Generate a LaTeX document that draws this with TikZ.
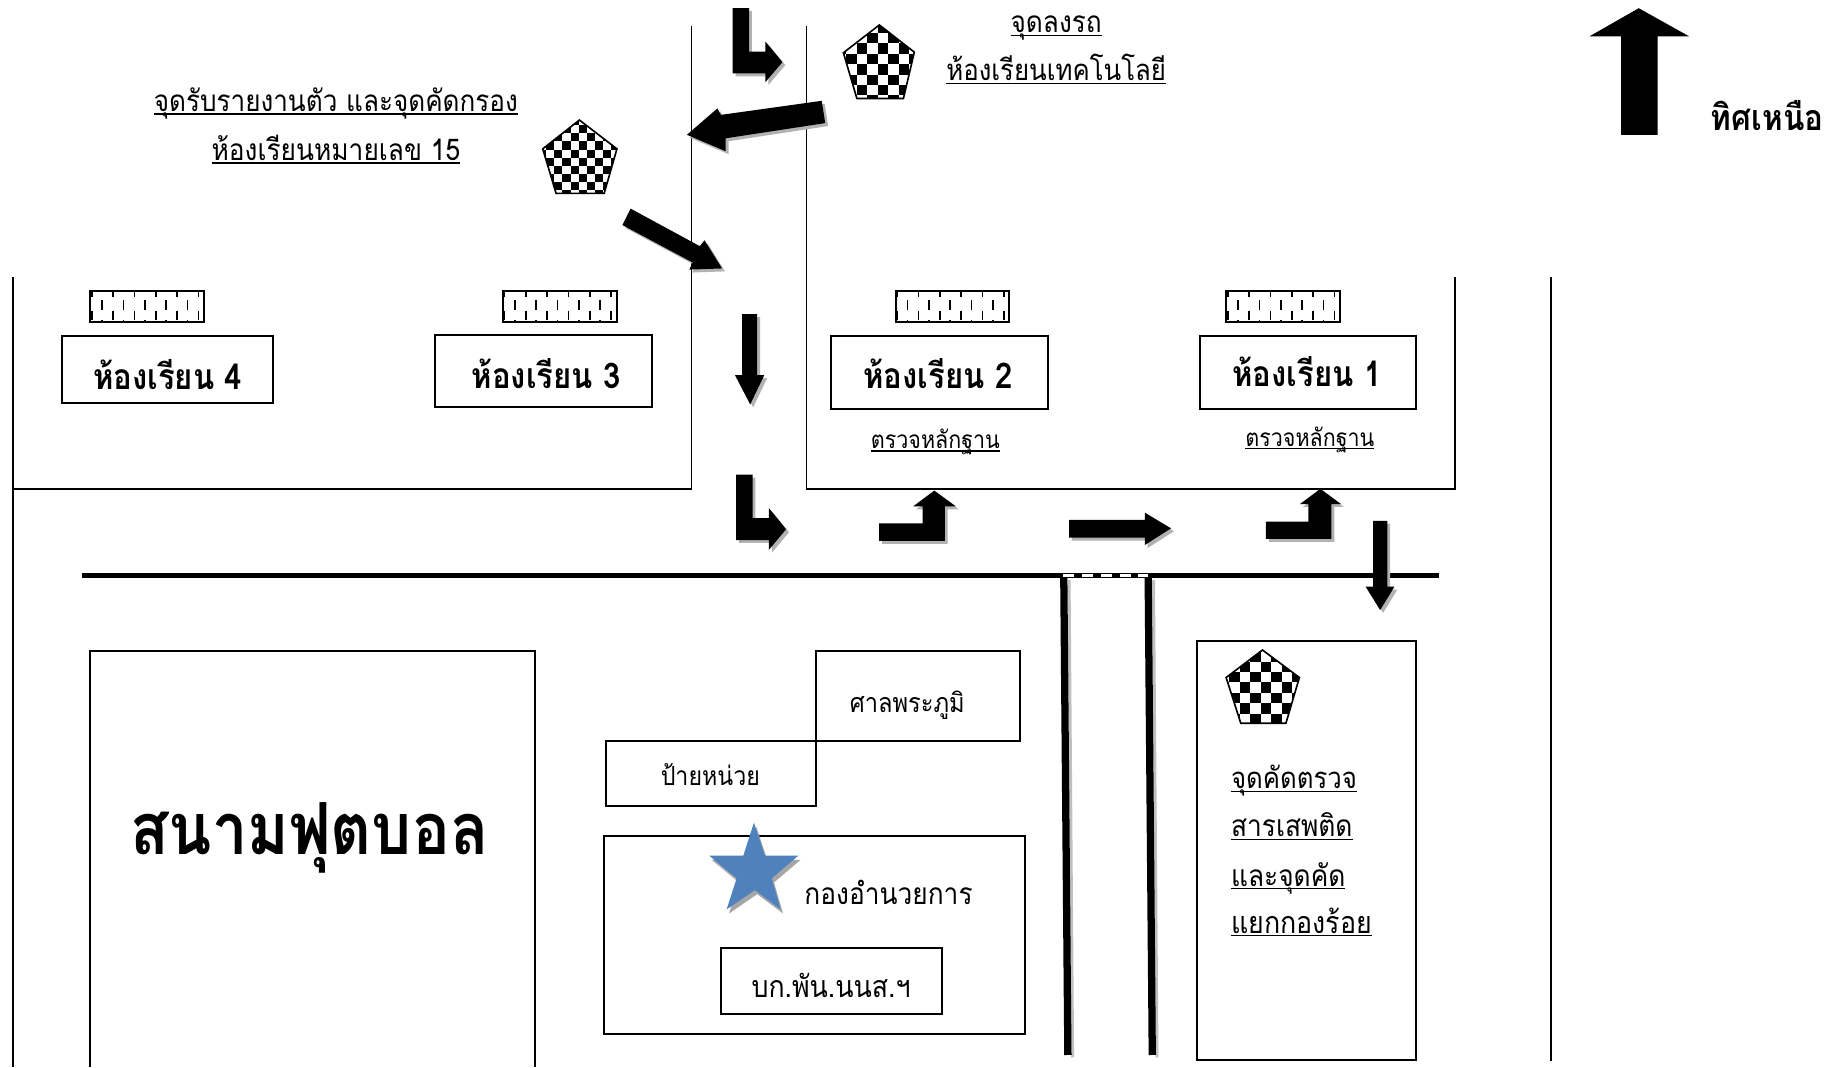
\documentclass[tikz,border=0pt]{standalone}
\usepackage{fontspec}
\newfontfamily\thaifont[Script=Thai,FakeStretch=0.88]{Loma}
\usetikzlibrary{calc}
\newcommand\ulthai[1]{\setbox0\hbox{#1}\rlap{\rule[-0.11em]{\wd0}{0.05em}}\box0}
\newcommand\fsz[1]{\fontsize{#1pt}{#1pt}\selectfont}
\tikzset{
  thin line/.style={line width=1.5pt,draw=black},
  road/.style={line width=4.2pt,draw=black},
  boxed/.style={line width=1.7pt,draw=black,fill=none},
  lab/.style={inner sep=0pt,anchor=base,font=\thaifont},
  labl/.style={inner sep=0pt,anchor=base west,font=\thaifont},
  arr/.style={fill=black,preaction={fill=black!30,transform canvas={shift={(2.5pt,-2.5pt)}}}},
  arrp/.style={fill=black},
  pent/.style={line width=1.4pt,draw=black},
  tick/.style={line width=1.5pt,draw=black},
}
% checker pentagon: #1 path, #2 x0, #3 y0, #4 cell w, #5 cell h
\newcommand\checkerpent[5]{%
  \begin{scope}
    \clip #1;
    \foreach \i in {0,...,12}{\foreach \j in {0,...,12}{%
      \pgfmathtruncatemacro\odd{mod(\i+\j,2)}%
      \ifnum\odd=0
        \fill[black] ({#2+\i*#4},{#3+\j*#5}) rectangle ++(#4,#5);
      \fi}}
  \end{scope}
  \draw[pent] #1;}
% hatch box #1 x0, #2 y0
\newcommand\hatchbox[2]{%
  \foreach \k in {0,...,5}{%
    \draw[tick] ({#1+1.4+\k*18.2},{#2}) -- ++(0,5);
    \draw[tick] ({#1+1.4+\k*18.2},{#2+17}) -- ++(0,8);}
  \foreach \k in {0,...,4}{%
    \draw[tick] ({#1+10.2+\k*18.2},{#2+8}) -- ++(0,8.5);
    \draw[tick] ({#1+10.2+\k*18.2},{#2+25}) -- ++(0,2);}
  \draw[boxed] (#1,#2) rectangle ++(97,27);}
\begin{document}
\begin{tikzpicture}[x=1pt,y=-1pt]
\useasboundingbox (0,0) rectangle (1568,911);
\fill[white] (0,0) rectangle (1568,911);
% walls
\draw[thin line] (590,22) -- (590,417) -- (11,417);
\draw[thin line] (11,236) -- (11,910);
\draw[thin line] (688,22) -- (688,417) -- (1241,417) -- (1241,236);
\draw[thin line] (1323,236) -- (1323,905);
% road side lines
\draw[line width=2.6pt,draw=black!25] (912,495) -- (915,902);
\draw[line width=2.6pt,draw=black!25] (984,495) -- (987,902);
\draw[line width=6.2pt,draw=black] (907.5,491) -- (911,900);
\draw[line width=6.2pt,draw=black] (979.5,491) -- (983,900);
% road
\draw[road] (70,491) -- (1228,491);
\draw[white,line width=2.6pt,dash pattern=on 9.4pt off 6.6pt] (907.2,491) -- (979.5,491);
% pentagons
\checkerpent{(750.2,21.3) -- (780,44.5) -- (770.7,84) -- (731,84) -- (719.5,45) -- cycle}{712.8}{19.1}{9}{8.9}
\checkerpent{(494.3,102.4) -- (526.3,127) -- (515.4,165) -- (474.4,165) -- (463,127) -- cycle}{452}{92.8}{6.95}{6.95}
\checkerpent{(1077,554.5) -- (1108.5,578) -- (1097,617) -- (1058.5,617) -- (1046,578) -- cycle}{1039.5}{546.6}{9}{8.9}
% arrows
\fill[arr] (625,7) -- (639,7) -- (639,44) -- (653,44) -- (653,35.5) -- (667.5,53) -- (653,70) -- (653,62.6) -- (625,62.6) -- cycle;
\fill[arr] (586,115) -- (612,92.5) -- (615,98) -- (701,86) -- (704,105) -- (619,118) -- (619,129) -- cycle;
\fill[arr] (538,178) -- (597,210) -- (601,205) -- (616,229) -- (588,230) -- (591,224) -- (531,192) -- cycle;
\fill[arr] (633,268) -- (646,268) -- (646,320) -- (652,320) -- (640,345) -- (627,320) -- (633,320) -- cycle;
\fill[arr] (628,405) -- (642,405) -- (642,442) -- (656,442) -- (656,433.6) -- (670.6,451.5) -- (656,469) -- (656,460.7) -- (628,460.7) -- cycle;
\fill[arr] (750,446.5) -- (787,446.5) -- (787,432) -- (779,432) -- (797,418.5) -- (815.5,432) -- (806,432) -- (806,461.5) -- (750,461.5) -- cycle;
\fill[arr] (912,443.6) -- (976.6,443.6) -- (976.6,437.3) -- (999,450.7) -- (976.6,465) -- (976.6,458.7) -- (912,458.7) -- cycle;
\fill[arr] (1080,445) -- (1116.2,445) -- (1116.2,430) -- (1109,430) -- (1126.4,417) -- (1144,430) -- (1135.8,430) -- (1135.8,459.8) -- (1080,459.8) -- cycle;
\fill[arr] (1171.3,444.4) -- (1183.5,444.4) -- (1183.5,500.5) -- (1189.6,500.5) -- (1177.4,520.4) -- (1165,500.5) -- (1171.3,500.5) -- cycle;
\fill[arrp] (1398,7) -- (1441,31) -- (1414,31) -- (1414,115) -- (1383,115) -- (1383,31) -- (1356,31) -- cycle;
% hatch boxes
\hatchbox{77}{248}
\hatchbox{429}{248}
\hatchbox{764}{248}
\hatchbox{1046}{248}
% boxes
\draw[boxed] (53,287) rectangle (233,344);
\draw[boxed] (371,286) rectangle (556,347);
\draw[boxed] (709,287) rectangle (894,349);
\draw[boxed] (1024,287) rectangle (1208,349);
\draw[boxed] (77,910) -- (77,555) -- (456,555) -- (456,910);
\draw[boxed] (696,555) rectangle (870,632);
\draw[boxed] (517,632) rectangle (696,688);
\draw[boxed] (515,713) rectangle (874,882);
\draw[boxed] (615,809) rectangle (804,865);
\draw[boxed] (1021,547) rectangle (1208,904);
% star
\fill[black!35,shift={(2,3.5)}] (643.2,701.8) -- (652.6,730) -- (681,730) -- (658.3,749.3) -- (666,775.8) -- (644,759.3) -- (619.9,775.8) -- (628.4,749.3) -- (605.1,730) -- (634.1,730) -- cycle;
\fill[fill={rgb,255:red,79;green,129;blue,189}] (643.2,701.8) -- (652.6,730) -- (681,730) -- (658.3,749.3) -- (666,775.8) -- (644,759.3) -- (619.9,775.8) -- (628.4,749.3) -- (605.1,730) -- (634.1,730) -- cycle;
% labels
\node[lab] (t1) at (901,28) {\fsz{25.4}\ulthai{จุดลงรถ}};
\node[lab] (t2) at (901,69) {\fsz{25}\ulthai{ห้องเรียนเทคโนโลยี}};
\node[lab] (t3) at (286.5,95) {\fsz{25.3}\ulthai{จุดรับรายงานตัว และจุดคัดกรอง}};
\node[lab] (t4) at (286.5,137) {\fsz{25.5}\ulthai{ห้องเรียนหมายเลข 15}};
\node[lab] (north) at (1507.5,111) {\fsz{30.5}\bfseries ทิศเหนือ};
\node[lab] (r4) at (143,332) {\fsz{30.2}\bfseries ห้องเรียน 4};
\node[lab] (r3) at (466,331) {\fsz{30.2}\bfseries ห้องเรียน 3};
\node[lab] (r2) at (800,331) {\fsz{30.2}\bfseries ห้องเรียน 2};
\node[lab] (r1) at (1115,330) {\fsz{30.2}\bfseries ห้องเรียน 1};
\node[lab] (e2) at (798,383) {\fsz{20.8}\ulthai{ตรวจหลักฐาน}};
\node[lab] (e1) at (1117.5,381) {\fsz{20.8}\ulthai{ตรวจหลักฐาน}};
\node[lab] (shrine) at (774,608) {\fsz{22.9}ศาลพระภูมิ};
\node[lab] (sign) at (606,670) {\fsz{22.5}ป้ายหน่วย};
\node[lab] (cmd) at (758,772) {\fsz{25.5}กองอำนวยการ};
\node[lab] (hq) at (709,851) {\fsz{25.9}บก.พัน.นนส.ฯ};
\node[lab] (field) at (264,729) {\fsz{61.3}\bfseries สนามฟุตบอล};
\node[labl] (c1) at (1050,673) {\fsz{25}\ulthai{จุดคัดตรวจ}};
\node[labl] (c2) at (1050,714) {\fsz{25.5}\ulthai{สารเสพติด}};
\node[labl] (c3) at (1050,756) {\fsz{25.5}\ulthai{และจุดคัด}};
\node[labl] (c4) at (1050,796) {\fsz{26}\ulthai{แยกกองร้อย}};
\end{tikzpicture}
\end{document}
